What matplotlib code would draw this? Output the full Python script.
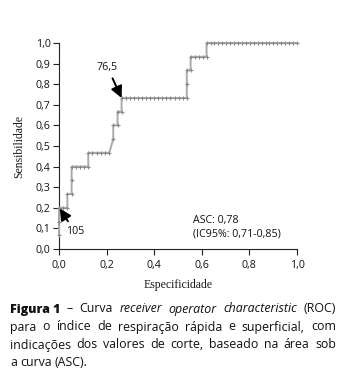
# -*- coding: utf-8 -*-

# --------------------
# System wide imports
# -------------------

import matplotlib

matplotlib.use("Agg")

# ---------------------
# Thrid-party libraries
# ---------------------

import matplotlib.pyplot as plt
from matplotlib.ticker import FuncFormatter, MultipleLocator

# ----------------
# Module constants
# ----------------

W, H = 341, 384
DPI = 100

SANS = ["Open Sans", "DejaVu Sans"]
SERIF = ["Liberation Serif", "DejaVu Serif"]

# ROC points, one per cut-off value
especificidade = [
    0.000, 0.000, 0.000, 0.018, 0.035, 0.035, 0.053, 0.053, 0.053,
    0.070, 0.088, 0.105, 0.123, 0.123, 0.140, 0.158, 0.175, 0.193, 0.211,
    0.228, 0.228, 0.246, 0.246, 0.263, 0.263,
    0.280, 0.297, 0.314, 0.332, 0.349, 0.366, 0.383, 0.400,
    0.417, 0.434, 0.451, 0.468, 0.486, 0.503, 0.520, 0.537,
    0.537, 0.537, 0.553, 0.553, 0.570, 0.587, 0.603, 0.620, 0.620,
    0.637, 0.653, 0.670, 0.686, 0.703, 0.719, 0.736, 0.752,
    0.769, 0.785, 0.802, 0.818, 0.835, 0.851, 0.868, 0.884,
    0.901, 0.917, 0.934, 0.950, 0.967, 0.983, 1.000,
]
sensibilidade = [
    0.067, 0.133, 0.200, 0.200, 0.200, 0.267, 0.267, 0.333, 0.400,
    0.400, 0.400, 0.400, 0.400, 0.467, 0.467, 0.467, 0.467, 0.467, 0.467,
    0.533, 0.600, 0.600, 0.667, 0.667, 0.733,
    0.733, 0.733, 0.733, 0.733, 0.733, 0.733, 0.733, 0.733,
    0.733, 0.733, 0.733, 0.733, 0.733, 0.733, 0.733, 0.733,
    0.800, 0.867, 0.867, 0.933, 0.933, 0.933, 0.933, 0.933, 1.000,
    1.000, 1.000, 1.000, 1.000, 1.000, 1.000, 1.000, 1.000,
    1.000, 1.000, 1.000, 1.000, 1.000, 1.000, 1.000, 1.000,
    1.000, 1.000, 1.000, 1.000, 1.000, 1.000, 1.000,
]

# Cut-off values pointed out on the curve: (label, especificidade, sensibilidade)
cortes = [
    ("76,5", 0.263, 0.733),
    ("105", 0.000, 0.200),
]

asc = "0,78"
ic95 = "0,71-0,85"

# Caption lines, each word with its style (b = bold, i = italic, n = normal)
legenda = [
    [("Figura 1", "b"), ("–", "n"), ("Curva", "n"), ("receiver", "i"),
     ("operator", "i"), ("characteristic", "i"), ("(ROC)", "n")],
    [("para", "n"), ("o", "n"), ("índice", "n"), ("de", "n"), ("respiração", "n"),
     ("rápida", "n"), ("e", "n"), ("superficial,", "n"), ("com", "n")],
    [("indicações", "n"), ("dos", "n"), ("valores", "n"), ("de", "n"), ("corte,", "n"),
     ("baseado", "n"), ("na", "n"), ("área", "n"), ("sob", "n")],
    [("a", "n"), ("curva", "n"), ("(ASC).", "n")],
]

CAP_SIZE = 8.9
CAP_LEFT, CAP_RIGHT = 10, 336
CAP_BASELINES = [312.5, 330.5, 348.5, 366.5]
CAP_STYLE = {
    "b": dict(fontweight="black"),
    "i": dict(style="italic"),
    "n": dict(),
}
TXT_SIZE = 7.7

# ------------------
# Auxiliary fnctions
# ------------------


def virgula(v, _pos):
    return f"{v:.1f}".replace(".", ",")


def caption_line(fig, words, y_px, justify=True):
    renderer = fig.canvas.get_renderer()
    texts = [
        fig.text(0, 1 - y_px / H, word, fontsize=CAP_SIZE, family=SANS,
                 va="baseline", ha="left", color="#111111", **CAP_STYLE[style])
        for word, style in words
    ]
    widths = [t.get_window_extent(renderer).width for t in texts]
    if justify and len(texts) > 1:
        gap = (CAP_RIGHT - CAP_LEFT - sum(widths)) / (len(texts) - 1)
    else:
        gap = 0.26 * CAP_SIZE * DPI / 72
    x = CAP_LEFT
    for t, w in zip(texts, widths):
        t.set_x(x / W)
        x += w + gap


# ----
# Plot
# ----

fig = plt.figure(figsize=(W / DPI, H / DPI), dpi=DPI)
ax = fig.add_axes([59 / W, 1 - 249 / H, 238 / W, 206 / H])

ax.plot(especificidade, sensibilidade, color="#ababab", lw=1.4,
        marker="+", ms=3, mec="#8a8a8a", mew=0.8, clip_on=False, zorder=3)

ax.set_xlim(0, 1)
ax.set_ylim(0, 1)
ax.xaxis.set_major_locator(MultipleLocator(0.2))
ax.yaxis.set_major_locator(MultipleLocator(0.1))
ax.xaxis.set_major_formatter(FuncFormatter(virgula))
ax.yaxis.set_major_formatter(FuncFormatter(virgula))

for side in ("top", "right"):
    ax.spines[side].set_visible(False)
for side in ("left", "bottom"):
    ax.spines[side].set_color("#222222")
    ax.spines[side].set_linewidth(0.8)

ax.tick_params(direction="out", length=4, width=0.8, color="#222222",
               labelsize=TXT_SIZE, labelcolor="#111111", pad=2)
for lbl in ax.get_xticklabels() + ax.get_yticklabels():
    lbl.set_family(SANS)
ax.tick_params(axis="x", pad=4)

ax.set_xlabel("Especificidade", family=SERIF, fontsize=8.5, color="#1a1a1a", va="center")
ax.set_ylabel("Sensibilidade", family=SERIF, fontsize=8.5, color="#1a1a1a", va="center")
ax.xaxis.set_label_coords(0.5, -0.175)
ax.yaxis.set_label_coords(-0.168, 0.5)

# Cut-off arrows
seta = dict(arrowstyle="-|>,head_length=0.9,head_width=0.45",
            color="black", lw=1.4, shrinkA=2, shrinkB=0)
rotulo, x, y = cortes[0]
ax.annotate(rotulo, xy=(x, y), xytext=(0.204, 0.881), ha="center", va="center",
            fontsize=TXT_SIZE, family=SANS, color="#111111", arrowprops=seta)
rotulo, x, y = cortes[1]
ax.annotate(rotulo, xy=(x + 0.003, y - 0.003), xytext=(0.066, 0.083), ha="center",
            va="center", fontsize=TXT_SIZE, family=SANS, color="#111111", arrowprops=seta)

ax.text(0.564, 0.136, f"ASC: {asc}", ha="left", va="center",
        fontsize=TXT_SIZE, family=SANS, color="#111111")
ax.text(0.564, 0.073, f"(IC95%: {ic95})", ha="left", va="center",
        fontsize=TXT_SIZE, family=SANS, color="#111111")

# Caption below the chart, justified like the printed text
for i, (words, base) in enumerate(zip(legenda, CAP_BASELINES)):
    caption_line(fig, words, base, justify=i < len(legenda) - 1)

fig.savefig("out.png", dpi=DPI)
